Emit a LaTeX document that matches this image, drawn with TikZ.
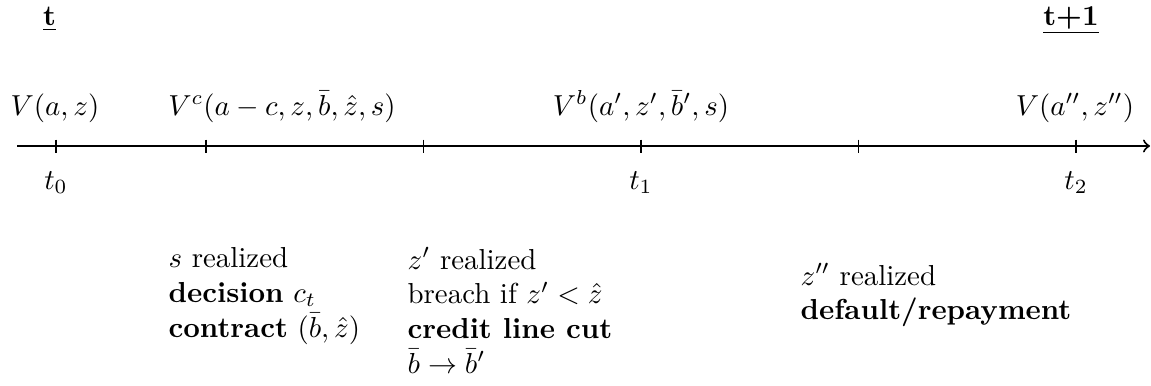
\documentclass[tikz,border=0pt]{standalone}
\begin{document}
\begin{tikzpicture}[x=0.346pt,y=-0.346pt,
  axis/.style={line width=0.7pt,->},
  tickmark/.style={line width=0.4pt},
  lbl/.style={inner sep=0pt,anchor=base},
  blk/.style={inner sep=0pt,anchor=north west,align=left}]
\useasboundingbox (0,0) rectangle (1151,385);
% period labels
\node[lbl] (tnow) at (49.5,25) {\underline{\textbf{t}}};
\node[lbl] (tnext) at (1071,25) {\underline{\textbf{t+1}}};
% axis
\coordinate (axstart) at (17,146);
\coordinate (axend) at (1150,146);
\draw[axis] (axstart) -- (axend);
% ticks
\foreach \n/\x in {k0/56,k1/206,k2/423.5,k3/641,k4/858.5,k5/1076}{
  \coordinate (\n) at (\x,146);
  \draw[tickmark] (\x,139.5) -- (\x,152.5);
}
% value functions
\node[lbl] (v0) at (55,115) {$V(a,z)$};
\node[lbl] (vc) at (282,115) {$V^c(a-c,z,\bar b,\hat z,s)$};
\node[lbl] (vb) at (641,115) {$V^b(a',z',\bar b',s)$};
\node[lbl] (v2) at (1075,115) {$V(a'',z'')$};
% time labels
\node[lbl] (t0) at (56,189) {$t_0$};
\node[lbl] (t1) at (641,189) {$t_1$};
\node[lbl] (t2) at (1076,189) {$t_2$};
% events
\node[blk] (e1) at (168,247) {$s$ realized\\ \textbf{decision} $c_t$\\ \textbf{contract} $(\bar b,\hat z)$};
\node[blk] (e2) at (407,247) {$z'$ realized\\ breach if $z'<\hat z$\\ \textbf{credit line cut}\\ $\bar b\to\bar b'$};
\node[blk] (e3) at (800,263) {$z''$ realized\\ \textbf{default/repayment}};
\end{tikzpicture}
\end{document}
